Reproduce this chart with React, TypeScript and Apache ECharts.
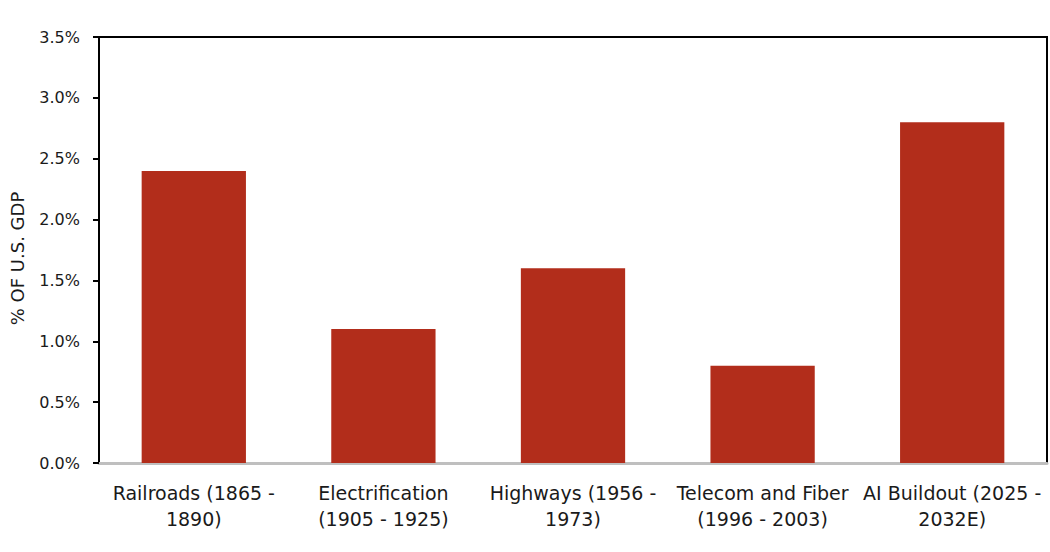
import { useEffect, useRef } from "react";
import * as echarts from "echarts";

const categories = [
  "Railroads (1865 -\n1890)",
  "Electrification\n(1905 - 1925)",
  "Highways (1956 -\n1973)",
  "Telecom and Fiber\n(1996 - 2003)",
  "AI Buildout (2025 -\n2032E)",
];
const gdpShare = [2.4, 1.1, 1.6, 0.8, 2.8];

const FONT = "'DejaVu Sans', sans-serif";
const TEXT = "#1a1a1a";

export default function App() {
  const ref = useRef<HTMLDivElement | null>(null);

  useEffect(() => {
    document.body.style.margin = "0";
    if (!ref.current) return;
    const chart = echarts.init(ref.current, undefined, { renderer: "svg" });
    chart.setOption({
      animation: false,
      backgroundColor: "#ffffff",
      grid: {
        left: 99,
        right: 3,
        top: 37,
        bottom: 89,
        outerBoundsMode: "none",
        containLabel: false,
        show: true,
        borderColor: "#000000",
        borderWidth: 2,
        backgroundColor: "transparent",
      },
      xAxis: {
        type: "category",
        data: categories,
        axisTick: { show: false },
        axisLine: { lineStyle: { color: "#bfbfbf", width: 3 } },
        axisLabel: {
          color: TEXT,
          fontFamily: FONT,
          fontSize: 19,
          lineHeight: 26,
          margin: 17,
          interval: 0,
        },
      },
      yAxis: {
        type: "value",
        min: 0,
        max: 3.5,
        interval: 0.5,
        name: "% OF U.S. GDP",
        nameLocation: "middle",
        nameGap: 73,
        nameTextStyle: { color: TEXT, fontFamily: FONT, fontSize: 18, padding: [0, 17, 0, 0] },
        axisLine: { show: true, lineStyle: { color: "#000000", width: 2 } },
        axisTick: { show: true, length: 6, lineStyle: { color: "#000000", width: 2 } },
        splitLine: { show: false },
        axisLabel: {
          color: TEXT,
          fontFamily: FONT,
          fontSize: 16,
          margin: 19,
          formatter: (v: number) => v.toFixed(1) + "%",
        },
      },
      series: [
        {
          type: "bar",
          data: gdpShare,
          barWidth: "55%",
          itemStyle: { color: "#b22d1b" },
        },
      ],
    });
    return () => chart.dispose();
  }, []);

  return <div ref={ref} style={{ width: 1050, height: 552 }} />;
}
